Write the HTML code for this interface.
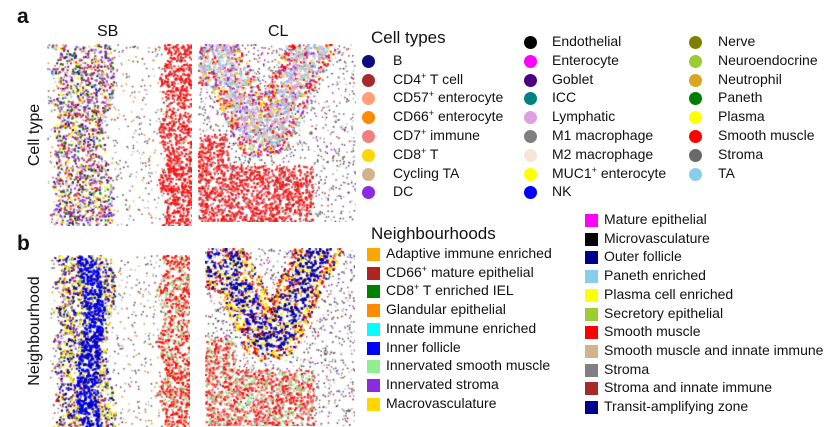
<!DOCTYPE html>
<html><head><meta charset="utf-8">
<style>
body{margin:0;width:835px;height:426px;background:#fff;overflow:hidden;font-family:"Liberation Sans",Arial,sans-serif;color:#111;position:relative}
.abs{position:absolute;white-space:nowrap}
.lbl{font-size:14px}
.panel-letter{font-size:21px;font-weight:bold}
.dot{position:absolute;width:13px;height:13px;border-radius:50%}
.sq{position:absolute;width:13px;height:13px}
canvas{position:absolute}
sup{font-size:9px;vertical-align:5px;line-height:0}
</style></head>
<body>
<div class="abs panel-letter" style="left:17px;top:5px">a</div>
<div class="abs panel-letter" style="left:17px;top:232px">b</div>
<div class="abs" style="left:97px;top:23px;font-size:16px">SB</div>
<div class="abs" style="left:268px;top:23px;font-size:16px">CL</div>
<div class="abs" style="left:-10px;top:126px;font-size:16px;transform:rotate(-90deg);width:90px;text-align:center">Cell type</div>
<div class="abs" style="left:-30px;top:322px;font-size:16px;transform:rotate(-90deg);width:130px;text-align:center">Neighbourhood</div>

<canvas id="c1" width="145" height="182" style="left:47px;top:44px"></canvas>
<canvas id="c2" width="158" height="178" style="left:198px;top:44px"></canvas>
<canvas id="c3" width="140" height="172" style="left:50px;top:255px"></canvas>
<canvas id="c4" width="150" height="178" style="left:205px;top:248px"></canvas>

<div class="abs" style="left:371px;top:28px;font-size:17px">Cell types</div>
<div id="leg1"></div>
<div class="abs" style="left:371px;top:224px;font-size:17px">Neighbourhoods</div>
<div id="leg2"></div>

<script>
const cellTypes=[["B","#0c0c80"],["CD4<sup>+</sup> T cell","#a52a2a"],["CD57<sup>+</sup> enterocyte","#ffa07a"],["CD66<sup>+</sup> enterocyte","#ff8c00"],["CD7<sup>+</sup> immune","#f08080"],["CD8<sup>+</sup> T","#ffd700"],["Cycling TA","#d2b48c"],["DC","#8a2be2"],
["Endothelial","#000"],["Enterocyte","#ff00ff"],["Goblet","#4b0082"],["ICC","#008080"],["Lymphatic","#dda0dd"],["M1 macrophage","#808080"],["M2 macrophage","#f5e6d8"],["MUC1<sup>+</sup> enterocyte","#ffff00"],["NK","#0000ff"],
["Nerve","#808000"],["Neuroendocrine","#9acd32"],["Neutrophil","#daa520"],["Paneth","#008000"],["Plasma","#ffff00"],["Smooth muscle","#ff0000"],["Stroma","#696969"],["TA","#87ceeb"]];
const hoods=[["Adaptive immune enriched","#ffa500"],["CD66<sup>+</sup> mature epithelial","#b22222"],["CD8<sup>+</sup> T enriched IEL","#008000"],["Glandular epithelial","#ff8c00"],["Innate immune enriched","#00ffff"],["Inner follicle","#0000ff"],["Innervated smooth muscle","#90ee90"],["Innervated stroma","#8a2be2"],["Macrovasculature","#ffd700"],
["Mature epithelial","#ff00ff"],["Microvasculature","#000"],["Outer follicle","#00008b"],["Paneth enriched","#87ceeb"],["Plasma cell enriched","#ffff00"],["Secretory epithelial","#9acd32"],["Smooth muscle","#ff0000"],["Smooth muscle and innate immune","#d2b48c"],["Stroma","#808080"],["Stroma and innate immune","#a52a2a"],["Transit-amplifying zone","#00008b"]];
const L1=document.getElementById('leg1');
cellTypes.forEach((c,i)=>{
  const col=i<8?0:(i<17?1:2); const r=i<8?i+1:(i<17?i-8:i-17);
  const dx=[362,524,689][col], tx=[393,552,718][col];
  const y=42+r*18.8;
  const d=document.createElement('div');d.className='dot';d.style.left=dx+'px';d.style.top=(y-6)+'px';d.style.background=c[1];
  
  
  const t=document.createElement('div');t.className='abs lbl';t.style.left=tx+'px';t.style.top=(y-9)+'px';t.innerHTML=c[0];
  
  
  L1.appendChild(d);L1.appendChild(t);
});
const L2=document.getElementById('leg2');
hoods.forEach((c,i)=>{
  const col=i<9?0:1; const r=i<9?i:i-9;
  const sx=[367,585][col], tx=[386,604][col];
  const y=(col?220:254)+r*18.7;
  const d=document.createElement('div');d.className='sq';d.style.left=sx+'px';d.style.top=(y-6)+'px';d.style.background=c[1];
  
  
  const t=document.createElement('div');t.className='abs lbl';t.style.left=tx+'px';t.style.top=(y-9)+'px';t.innerHTML=c[0];
  
  
  L2.appendChild(d);L2.appendChild(t);
});
// decorative tissue texture (deterministic)
let s=12345;function rnd(){s=(s*1103515245+12345)%2147483648;return s/2147483648;}
function fill(ctx,w,h,test,n,cols,sz){for(let k=0;k<n;k++){const x=rnd()*w,y=rnd()*h;if(test(x,y)){ctx.fillStyle=cols[Math.floor(rnd()*cols.length)];ctx.fillRect(x,y,sz,sz);}}}
const grey=['#999','#777','#bbb','#555','#444'];
function tissueSB(id,bandR,bandCols,blue,red){
  const cv=document.getElementById(id),ctx=cv.getContext('2d'),w=cv.width,h=cv.height;
  fill(ctx,w,h,()=>true,700,grey.concat(['#c33','#e80']),1.5);
  fill(ctx,w,h,(x,y)=>x<bandR+5*Math.sin(y/20)&&x>2+8*Math.abs(Math.sin(y/9)),3500,bandCols,2);
  if(blue)fill(ctx,w,h,(x,y)=>Math.abs(x-(35+6*Math.sin(y/30)+y*0.05))<10,3500,blue,2.5);
  fill(ctx,w,h,(x,y)=>x>w-30+4*Math.sin(y/8),4500,red,2);
}
tissueSB('c1',62,['#8a2be2','#c22','#e33','#ffd700','#0c0c80','#dda0dd','#87ceeb','#080','#333','#ff0','#a52a2a','#8a2be2'],null,['#f00','#f00','#e33','#c33']);
tissueSB('c3',60,['#00008b','#ffd700','#ff0','#9acd32','#333','#b22','#8a2be2','#00008b'],['#0000ff','#0000ff','#0000ff','#00008b'],['#f00','#f00','#e33','#d2b48c','#90ee90']);
function tissueCL(id,bandCols,inner,red){
  const cv=document.getElementById(id),ctx=cv.getContext('2d'),w=cv.width,h=cv.height;
  fill(ctx,w,h,()=>true,1400,grey.concat(['#c33','#333','#8a2be2']),1.5);
  const pts=[[0,20],[20,8],[58,90],[72,88],[100,25],[115,0]];
  function dist(x,y){let m=1e9;for(let i=0;i<pts.length-1;i++){const[a,b]=pts[i],[c,d]=pts[i+1];const dx=c-a,dy=d-b;let t=((x-a)*dx+(y-b)*dy)/(dx*dx+dy*dy);t=Math.max(0,Math.min(1,t));const ex=a+t*dx-x,ey=b+t*dy-y;m=Math.min(m,Math.hypot(ex,ey));}return m;}
  fill(ctx,w,h,(x,y)=>dist(x,y)<22,6000,bandCols,2);
  fill(ctx,w,h,(x,y)=>dist(x,y)<12,2500,inner,2.5);
  fill(ctx,w,h,(x,y)=>(y>h*0.5&&x<30)||(y>h*0.68&&x<w*0.72),6000,red,2);
}
tissueCL('c2',['#f00','#e22','#ffd700','#8a2be2','#87ceeb'],['#ddd','#ccc','#87ceeb','#dda0dd'],['#f00','#e22','#c33','#f55']);
tissueCL('c4',['#f00','#ff0','#ffd700','#00008b','#b22'],['#00008b','#00008b','#fff','#0000ff'],['#f00','#e22','#90ee90','#d2b48c','#f55']);
</script>
</body></html>
